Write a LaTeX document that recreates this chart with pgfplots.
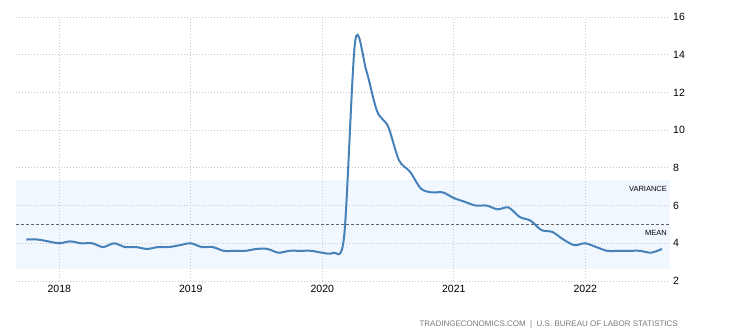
\documentclass[border=0pt]{standalone}
\usepackage{pgfplots}
\pgfplotsset{compat=1.18}
\usepackage{fontspec}
\setmainfont{Liberation Sans}
\definecolor{teline}{RGB}{70,130,185}
\definecolor{teband}{RGB}{240,247,254}
\definecolor{tegrid}{RGB}{200,200,200}
\definecolor{temean}{RGB}{100,100,100}
\definecolor{tefoot}{RGB}{120,120,120}
\pgfplotsset{set layers}
\begin{document}
\begin{tikzpicture}
\begin{axis}[
  at={(16pt,54pt)}, anchor=south west, scale only axis,
  width=654pt, height=264pt,
  xmin=-3.95, xmax=55.73, ymin=2, ymax=16,
  axis line style={draw=none},
  major tick length=0pt,
  xtick={0,12,24,36,48}, xticklabels={2018,2019,2020,2021,2022},
  ytick={2,4,...,16}, yticklabel pos=right,
  yticklabel style={anchor=west, inner sep=0pt, xshift=3pt, font=\fontsize{10.5}{12}\selectfont},
  xticklabel style={font=\fontsize{10.5}{12}\selectfont, yshift=-1pt},
  /pgf/number format/assume math mode=true,
  grid=major,
  grid style={tegrid, line width=0.8pt, dash pattern=on 1pt off 2pt},
  clip=false,
]
\addplot[draw=none, fill=teband, on layer=axis background] coordinates {(-3.95,2.65) (55.73,2.65) (55.73,7.37) (-3.95,7.37)} -- cycle;
\addplot[temean, line width=0.7pt, dash pattern=on 3pt off 2pt] coordinates {(-3.95,5.03) (55.73,5.03)};
\addplot[teline, line width=2pt, smooth, tension=0.5, no marks] table {
x y
-3 4.2
-2 4.2
-1 4.1
0 4.0
1 4.1
2 4.0
3 4.0
4 3.8
5 4.0
6 3.8
7 3.8
8 3.7
9 3.8
10 3.8
11 3.9
12 4.0
13 3.8
14 3.8
15 3.6
16 3.6
17 3.6
18 3.7
19 3.7
20 3.5
21 3.6
22 3.6
23 3.6
24 3.5
25 3.5
26 4.4
27 14.7
28 13.2
29 11.0
30 10.2
31 8.4
32 7.8
33 6.9
34 6.7
35 6.7
36 6.4
37 6.2
38 6.0
39 6.0
40 5.8
41 5.9
42 5.4
43 5.2
44 4.7
45 4.6
46 4.2
47 3.9
48 4.0
49 3.8
50 3.6
51 3.6
52 3.6
53 3.6
54 3.5
55 3.7
};
\node[anchor=base east, inner sep=0pt, font=\fontsize{7.5}{9}\selectfont] at (axis cs:55.46,6.75) {VARIANCE};
\node[anchor=base east, inner sep=0pt, font=\fontsize{7.5}{9}\selectfont] at (axis cs:55.46,4.40) {MEAN};
\end{axis}
\node[anchor=base east, inner sep=0pt, text=tefoot, font=\fontsize{8}{10}\selectfont] at (678pt,8.5pt) {TRADINGECONOMICS.COM \ | \ U.S. BUREAU OF LABOR STATISTICS};
\path (0pt,0pt) rectangle (729pt,335pt);
\end{tikzpicture}
\end{document}
